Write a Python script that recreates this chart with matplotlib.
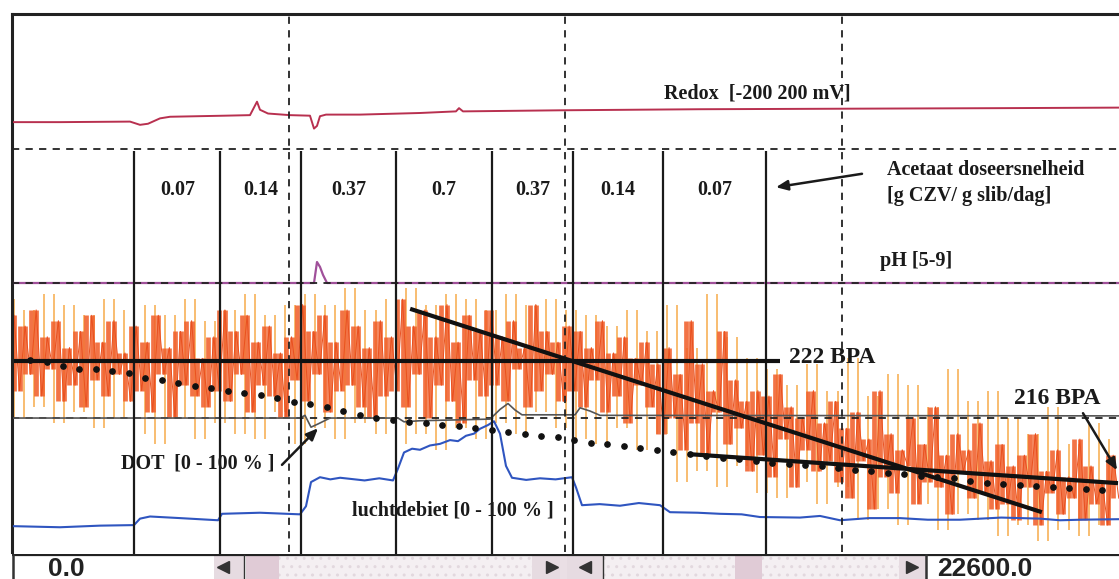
import numpy as np
import matplotlib
matplotlib.use('Agg')
import matplotlib.pyplot as plt
from matplotlib.patches import Rectangle

# ---------------- data (time in s, signals on a 0-100 display scale) ----------------
x_max = 22600
grid_x = [5650, 11300, 16950]
grid_y = [25, 50, 75]

dose_edges = [2500, 4250, 5900, 7850, 9800, 11450, 13300, 15400]
dose_labels = ['0.07', '0.14', '0.37', '0.7', '0.37', '0.14', '0.07']

redox_x = [40, 980, 2410, 2614, 2777, 3022, 3226, 4349, 4860, 5003, 5064, 5228, 5677, 6085,
           6167, 6228, 6289, 6412, 7106, 8331, 9066, 9128, 9209, 11190, 14049, 17112, 20175, 22605]
redox_y = [79.9, 79.9, 80.0, 79.4, 79.6, 80.6, 80.9, 81.1, 81.2, 83.7, 82.2, 81.5, 81.2, 81.1,
           78.7, 79.2, 81.0, 81.3, 81.3, 81.6, 81.9, 82.5, 81.9, 82.1, 82.3, 82.4, 82.5, 82.6]

ph_x = [40, 6167, 6228, 6289, 6351, 6433, 22605]
ph_y = [50.0, 50.0, 53.9, 53.0, 51.5, 50.0, 50.0]

dot_x = [40, 5881, 5983, 6106, 6249, 6494, 7882, 8005, 8331, 9761, 9965, 10128, 10271, 10414,
         11497, 11599, 11803, 12007, 22605]
dot_y = [24.9, 24.9, 25.4, 23.2, 23.8, 24.9, 24.9, 24.2, 24.4, 24.7, 26.5, 27.6, 26.4, 25.5,
         25.5, 26.8, 26.2, 25.4, 25.3]

air_x = [40, 980, 1797, 2491, 2614, 2818, 3431, 4207, 4288, 5064, 5881, 6003, 6106, 6289, 6500,
         6700, 6902, 7200, 7500, 7780, 7882, 8005, 8170, 8331, 8535, 8740, 8944, 9107, 9270, 9434,
         9556, 9720, 9842, 9965, 10087, 10210, 10500, 10782, 11100, 11435, 11517, 11639, 12000,
         12415, 12800, 13232, 13436, 14000, 14457, 14900, 15274, 16091, 16500, 16908, 17500,
         18133, 18700, 19358, 20200, 20992, 21400, 21809, 22605]
air_y = [4.8, 4.6, 4.9, 5.0, 6.2, 6.6, 6.3, 5.9, 7.1, 7.3, 7.0, 8.5, 13.0, 13.9, 13.5, 13.8,
         13.6, 13.3, 13.7, 13.3, 15.5, 18.5, 19.2, 19.0, 19.8, 20.1, 20.8, 20.6, 21.6, 22.0,
         22.9, 23.6, 24.3, 22.0, 16.0, 13.8, 13.4, 13.7, 13.5, 13.9, 12.0, 8.7, 8.9, 8.6, 9.1,
         8.7, 7.4, 7.3, 7.1, 7.0, 6.5, 6.4, 6.7, 5.9, 6.3, 6.3, 6.0, 6.0, 6.4, 6.2, 5.9, 6.0, 6.1]

bpa_core = [44, 30, 42, 33, 45, 29, 40, 34, 43, 28, 38, 31, 41, 27, 44, 32, 39, 29, 43, 33, 37, 28,
            42, 30, 39, 26, 44, 33, 38, 25, 41, 31, 43, 29, 36, 27, 40,
            30, 45, 28, 41, 33, 44, 26, 39, 31, 42, 29, 37, 25, 40, 32,
            46, 28, 41, 33, 44, 26, 39, 30, 45, 31, 42, 27, 38, 25, 43, 29, 40,
            30, 47, 27, 42, 33, 45, 25, 40, 31, 46, 28, 39, 24, 44, 32, 41, 29,
            45, 31, 40, 28, 43, 34, 38, 27, 46, 30, 41, 33, 39, 28, 42,
            30, 41, 27, 38, 32, 43, 26, 37, 29, 40, 24, 36, 31, 39, 27, 35,
            22, 38, 25, 33, 19, 43, 24, 35, 18, 30, 26, 41, 20, 32, 23, 28, 15, 30,
            18, 29, 14, 33, 21, 27, 12, 25, 19, 30, 15, 24, 17, 28, 13,
            23, 10, 26, 17, 21, 8, 30, 14, 22, 11, 19, 16, 25, 9, 20, 13, 27, 12, 18, 7, 22, 15, 19,
            10, 24, 11, 17, 8,
            20, 9, 16, 6, 18, 12, 22, 5, 15, 11, 19, 7, 14, 10, 21, 6, 16, 9, 13, 5, 18, 10]

bpa_peaks = [47, 25, 45, 27, 48, 24, 46, 26, 44, 23, 47, 25, 45,
             22, 46, 20, 44, 25, 47, 21, 43,
             24, 45, 22, 48, 21, 44, 26, 46, 20,
             48, 23, 46, 21, 49, 24, 45, 22, 47,
             20, 49, 22, 46, 19, 48, 23, 47, 21, 45,
             24, 48, 22, 46, 26, 47, 23, 45,
             21, 44, 20, 42, 23, 45, 19, 41, 22,
             46, 13, 38, 15, 48, 12, 40, 16, 36, 11,
             34, 10, 31, 13, 35, 9, 30, 12,
             36, 6, 29, 8, 33, 5, 31, 9, 27, 4, 34, 7, 28, 6, 30,
             3, 25, 5, 22, 2, 27, 4, 20, 3, 24, 5, 21]

bpa_trend = [35.7, 35.3, 34.6, 34.1, 34.0, 33.6, 33.2, 32.4, 31.9, 31.4, 30.9, 30.4, 30.0, 29.6,
             29.1, 28.6, 27.9, 27.5, 27.0, 26.2, 25.5, 25.0, 24.5, 24.2, 23.9, 23.6, 23.4, 23.1,
             22.7, 22.3, 21.9, 21.6, 21.3, 20.8, 20.3, 20.0, 19.7, 19.4, 18.9, 18.5, 18.2, 17.8,
             17.5, 17.2, 16.9, 16.6, 16.4, 16.1, 15.9, 15.6, 15.3, 15.0, 14.7, 14.5, 14.2, 14.0,
             13.8, 13.2, 12.9, 12.7, 12.5, 12.3, 12.1, 11.9, 11.7, 11.5]
trend_span = [368, 22258]

fit_level_x = [40, 15680]
fit_level_y = [35.5, 35.5]
fit_slope_x = [8130, 21030]
fit_slope_y = [45.2, 7.4]
fit_end_x = [13804, 22585]
fit_end_y = [18.2, 12.8]

# ---------------- figure ----------------
W, H = 1119, 579
fig = plt.figure(figsize=(W / 100, H / 100), dpi=100)
ax = fig.add_axes([12 / W, 27 / H, 1107 / W, 538 / H])
ax.set_xlim(0, 22605)
ax.set_ylim(0, 100)
ax.set_xticks([])
ax.set_yticks([])
for s in ['right', 'bottom']:
    ax.spines[s].set_visible(False)
for s in ['left', 'top']:
    ax.spines[s].set_linewidth(2.2)
    ax.spines[s].set_color('#222222')

serif = ['Liberation Serif', 'DejaVu Serif']
ink = '#1a1a1a'

# orange BPA signal: each sample-to-sample swing drawn as a vertical stroke
xp = np.linspace(40, x_max, len(bpa_peaks))
xc = np.linspace(40, x_max, len(bpa_core))
pk = np.asarray(bpa_peaks, float)
co = np.asarray(bpa_core, float)
ax.vlines(xp[:-1], np.minimum(pk[:-1], pk[1:]), np.maximum(pk[:-1], pk[1:]),
          colors='#f7ab4a', lw=1.1, zorder=1)
ax.vlines(xc[:-1], np.minimum(co[:-1], co[1:]), np.maximum(co[:-1], co[1:]),
          colors='#f1602c', lw=3.4, alpha=0.88, zorder=2)
ax.plot(xc, co, color='#e9501f', lw=0.7, zorder=2.1)

# grid
for gx in grid_x:
    ax.axvline(gx, color='#222222', lw=1.3, ls=(0, (4, 3.5)), zorder=4)
for gy in grid_y:
    ax.axhline(gy, color='#222222', lw=1.3, ls=(0, (4, 3.5)), zorder=3)

# other traces
ax.plot(redox_x, redox_y, color='#b8304f', lw=1.4, zorder=3)
ax.plot(ph_x, ph_y, color='#a0509a', lw=1.6, zorder=2.9)
ax.plot(dot_x, dot_y, color='#555555', lw=1.2, zorder=3.1)
ax.plot(air_x, air_y, color='#2f55c0', lw=1.5, zorder=3)

# dose segments
ax.vlines(dose_edges, -2.8, 74.6, colors=ink, lw=1.6, zorder=5, clip_on=False)
for i, lab in enumerate(dose_labels):
    xm = (dose_edges[i] + dose_edges[i + 1]) / 2
    ax.text(xm, 67.3, lab, ha='center', va='center', fontsize=14.5, fontweight='bold',
            family=serif, color=ink, zorder=4)

# fits
ax.plot(fit_level_x, fit_level_y, color='#111111', lw=3, zorder=6, solid_capstyle='butt')
ax.plot(fit_slope_x, fit_slope_y, color='#111111', lw=3, zorder=6, solid_capstyle='butt')
ax.plot(fit_end_x, fit_end_y, color='#111111', lw=3, zorder=6, solid_capstyle='butt')
xt = np.linspace(trend_span[0], trend_span[1], len(bpa_trend))
ax.plot(xt, bpa_trend, ls='none', marker='o', ms=3.8, color='#111111', zorder=6)

# labels
tk = dict(fontweight='bold', family=serif, color=ink, va='center', ha='left', zorder=4)
ax.text(13314, 85.3, 'Redox  [-200 200 mV]', fontsize=14.5, **tk)
ax.text(17868, 71.0, 'Acetaat doseersnelheid', fontsize=14.5, **tk)
ax.text(17868, 66.2, '[g CZV/ g slib/dag]', fontsize=14.5, **tk)
ax.text(17725, 54.1, 'pH [5-9]', fontsize=14.5, **tk)
ax.text(15866, 36.2, '222 BPA', fontsize=17, **tk)
ax.text(20461, 28.6, '216 BPA', fontsize=17, **tk)
ax.text(2226, 16.5, 'DOT  [0 - 100 % ]', fontsize=14.5, **tk)
ax.text(6943, 7.8, 'luchtdebiet [0 - 100 % ]', fontsize=14.5, **tk)

arr = dict(arrowstyle='-|>,head_length=0.7,head_width=0.3', color=ink, lw=1.8,
           shrinkA=0, shrinkB=0)
ax.annotate('', xy=(15600, 67.8), xytext=(17357, 70.3), arrowprops=arr, zorder=7)
ax.annotate('', xy=(6249, 23.0), xytext=(5513, 16.2), arrowprops=arr, zorder=7)
ax.annotate('', xy=(22565, 15.2), xytext=(21870, 25.8), arrowprops=arr, zorder=7)

# ---------------- scrollbar strip ----------------
sb = fig.add_axes([12 / W, 0, 1107 / W, 25 / H])
sb.set_xlim(12, 1119)
sb.set_ylim(0, 25)
sb.axis('off')
btn, thumb, track = '#e6dbe1', '#e0cbd6', '#f4eff2'
for x0, x1, c in [(12, 214, 'white'), (214, 244, btn), (246, 279, thumb), (279, 532, track),
                  (532, 560, btn), (560, 567, '#eadfe5'), (567, 603, btn), (603, 735, track),
                  (735, 762, thumb), (762, 899, track), (899, 926, btn), (926, 1119, 'white')]:
    sb.add_patch(Rectangle((x0, 0), x1 - x0, 24.5, facecolor=c, edgecolor='none'))
for x0, x1 in [(279, 532), (603, 735), (762, 899)]:
    sb.add_patch(Rectangle((x0, 1), x1 - x0, 22, facecolor='none', edgecolor='#e2d8de',
                           hatch='..', lw=0))
sb.plot([12, 1119], [24.3, 24.3], color='#222222', lw=1.6)
for xv in [13, 244, 603, 926]:
    sb.plot([xv, xv], [0, 24.3], color='#333333', lw=1.8 if xv in (13, 926) else 1.0)
sb.plot([223, 585], [12, 12], ls='none', marker='<', ms=8, color='#333333')
sb.plot([552, 912], [12, 12], ls='none', marker='>', ms=8, color='#333333')
sk = dict(fontsize=19, fontweight='bold', family=['Liberation Sans', 'DejaVu Sans'],
          color='#222222', va='center', ha='left')
sb.text(48, 10.5, '0.0', **sk)
sb.text(937, 10.5, '22600.0', **sk)

fig.savefig('out.png', dpi=100)
